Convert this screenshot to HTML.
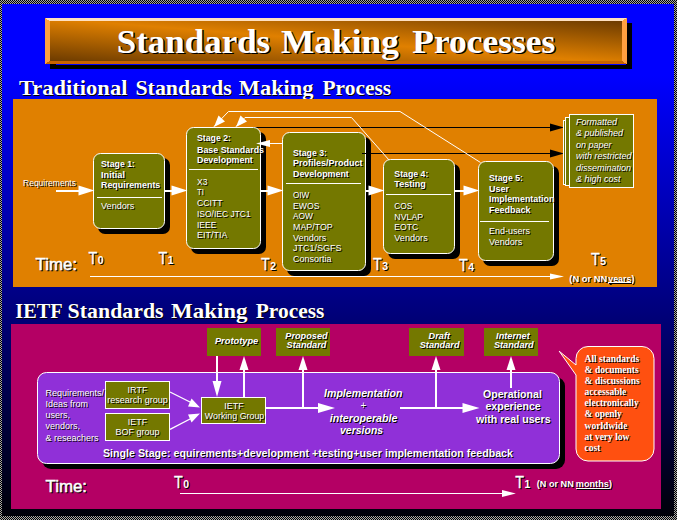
<!DOCTYPE html>
<html><head><meta charset="utf-8"><title>Standards Making Processes</title>
<style>
html,body{margin:0;padding:0;background:#000;}
body{width:677px;height:520px;overflow:hidden;font-family:"Liberation Sans",sans-serif;}
svg{display:block;}
</style></head><body>
<svg width="677" height="520" viewBox="0 0 677 520">
<defs>
<linearGradient id="bg" x1="0" y1="0" x2="0" y2="1">
<stop offset="0" stop-color="#0000ff"/><stop offset="0.14" stop-color="#0000ff"/><stop offset="1" stop-color="#000008"/>
</linearGradient>
<linearGradient id="tg" x1="0" y1="1" x2="1" y2="0">
<stop offset="0" stop-color="#643600"/><stop offset="0.5" stop-color="#e08000"/><stop offset="1" stop-color="#643600"/>
</linearGradient>
<pattern id="chk" width="2" height="2" patternUnits="userSpaceOnUse">
<rect width="2" height="2" fill="#000"/><rect x="1" y="0" width="1" height="1" fill="#a8a8a8"/><rect x="0" y="1" width="1" height="1" fill="#a8a8a8"/>
</pattern>
</defs>
<rect width="677" height="520" fill="url(#chk)" shape-rendering="crispEdges"/>
<rect x="2" y="4" width="672" height="512" fill="url(#bg)"/>

<g shape-rendering="crispEdges">
<rect x="50" y="23" width="582" height="46" fill="#000"/>
<rect x="45" y="18" width="582" height="46" fill="url(#tg)"/>
<polygon points="45,18 627,18 622,21 50,21" fill="#ffe0c0"/>
<polygon points="45,18 50,21 50,61 45,64" fill="#ffa040"/>
<polygon points="627,18 627,64 622,61 622,21" fill="#ffa040"/>
<polygon points="45,64 50,61 622,61 627,64" fill="#c86400"/>
<rect x="56" y="64" width="570" height="1" fill="#0000ff"/>
</g>
<text x="118.3" y="54.0" font-family="Liberation Serif, sans-serif" font-size="34" font-weight="bold" textLength="153.4" lengthAdjust="spacingAndGlyphs" fill="#000">Standards</text>
<text x="116.8" y="52.5" font-family="Liberation Serif, sans-serif" font-size="34" font-weight="bold" textLength="153.4" lengthAdjust="spacingAndGlyphs" fill="#fff">Standards</text>
<text x="282.4" y="54.0" font-family="Liberation Serif, sans-serif" font-size="34" font-weight="bold" textLength="118.0" lengthAdjust="spacingAndGlyphs" fill="#000">Making</text>
<text x="280.9" y="52.5" font-family="Liberation Serif, sans-serif" font-size="34" font-weight="bold" textLength="118.0" lengthAdjust="spacingAndGlyphs" fill="#fff">Making</text>
<text x="413.8" y="54.0" font-family="Liberation Serif, sans-serif" font-size="34" font-weight="bold" textLength="143.0" lengthAdjust="spacingAndGlyphs" fill="#000">Processes</text>
<text x="412.3" y="52.5" font-family="Liberation Serif, sans-serif" font-size="34" font-weight="bold" textLength="143.0" lengthAdjust="spacingAndGlyphs" fill="#fff">Processes</text>
<text x="20.0" y="96.0" font-family="Liberation Serif, sans-serif" font-size="21" font-weight="bold" textLength="108.4" lengthAdjust="spacingAndGlyphs" fill="#000">Traditional</text>
<text x="19.0" y="95.0" font-family="Liberation Serif, sans-serif" font-size="21" font-weight="bold" textLength="108.4" lengthAdjust="spacingAndGlyphs" fill="#fff">Traditional</text>
<text x="136.4" y="96.0" font-family="Liberation Serif, sans-serif" font-size="21" font-weight="bold" textLength="96.3" lengthAdjust="spacingAndGlyphs" fill="#000">Standards</text>
<text x="135.4" y="95.0" font-family="Liberation Serif, sans-serif" font-size="21" font-weight="bold" textLength="96.3" lengthAdjust="spacingAndGlyphs" fill="#fff">Standards</text>
<text x="239.8" y="96.0" font-family="Liberation Serif, sans-serif" font-size="21" font-weight="bold" textLength="74.7" lengthAdjust="spacingAndGlyphs" fill="#000">Making</text>
<text x="238.8" y="95.0" font-family="Liberation Serif, sans-serif" font-size="21" font-weight="bold" textLength="74.7" lengthAdjust="spacingAndGlyphs" fill="#fff">Making</text>
<text x="323.4" y="96.0" font-family="Liberation Serif, sans-serif" font-size="21" font-weight="bold" textLength="68.8" lengthAdjust="spacingAndGlyphs" fill="#000">Process</text>
<text x="322.4" y="95.0" font-family="Liberation Serif, sans-serif" font-size="21" font-weight="bold" textLength="68.8" lengthAdjust="spacingAndGlyphs" fill="#fff">Process</text>
<text x="16.3" y="319.2" font-family="Liberation Serif, sans-serif" font-size="21" font-weight="bold" textLength="47.3" lengthAdjust="spacingAndGlyphs" fill="#000">IETF</text>
<text x="15.3" y="318.2" font-family="Liberation Serif, sans-serif" font-size="21" font-weight="bold" textLength="47.3" lengthAdjust="spacingAndGlyphs" fill="#fff">IETF</text>
<text x="68.6" y="319.2" font-family="Liberation Serif, sans-serif" font-size="21" font-weight="bold" textLength="96.0" lengthAdjust="spacingAndGlyphs" fill="#000">Standards</text>
<text x="67.6" y="318.2" font-family="Liberation Serif, sans-serif" font-size="21" font-weight="bold" textLength="96.0" lengthAdjust="spacingAndGlyphs" fill="#fff">Standards</text>
<text x="172.0" y="319.2" font-family="Liberation Serif, sans-serif" font-size="21" font-weight="bold" textLength="76.5" lengthAdjust="spacingAndGlyphs" fill="#000">Making</text>
<text x="171.0" y="318.2" font-family="Liberation Serif, sans-serif" font-size="21" font-weight="bold" textLength="76.5" lengthAdjust="spacingAndGlyphs" fill="#fff">Making</text>
<text x="256.8" y="319.2" font-family="Liberation Serif, sans-serif" font-size="21" font-weight="bold" textLength="68.5" lengthAdjust="spacingAndGlyphs" fill="#000">Process</text>
<text x="255.8" y="318.2" font-family="Liberation Serif, sans-serif" font-size="21" font-weight="bold" textLength="68.5" lengthAdjust="spacingAndGlyphs" fill="#fff">Process</text>
<g shape-rendering="crispEdges">
<rect x="13" y="99" width="644" height="188" fill="#e08000"/>
<rect x="11" y="324" width="650" height="185" fill="#b40064"/>
</g>
<rect x="250" y="127" width="302" height="1" fill="#000" shape-rendering="crispEdges"/>
<rect x="362" y="153" width="190" height="1" fill="#000" shape-rendering="crispEdges"/>
<polygon points="550,123.5 564,127.5 550,131.5" fill="#000"/>
<polygon points="550,149.5 564,153.5 550,157.5" fill="#000"/>
<polyline points="214,126.5 228.5,111.5 400,111.5 480.5,162.5" fill="none" stroke="#fff" stroke-width="1"/>
<polygon points="214,127 218.5,115.5 225,121.5" fill="#fff"/>
<polyline points="236,126.5 245,117.5 351.5,117.5 389,160" fill="none" stroke="#fff" stroke-width="1"/>
<polygon points="236,127 240.5,115.5 247,121.5" fill="#fff"/>
<rect x="98" y="158" width="72" height="76" rx="7" ry="7" fill="#000"/>
<rect x="93.5" y="153.5" width="71" height="75" rx="7" ry="7" fill="#747800" stroke="#fff" stroke-width="1"/>
<rect x="191" y="132" width="75" height="122" rx="7" ry="7" fill="#000"/>
<rect x="186.5" y="127.5" width="74" height="121" rx="7" ry="7" fill="#747800" stroke="#fff" stroke-width="1"/>
<rect x="287" y="137" width="84" height="139" rx="7" ry="7" fill="#000"/>
<rect x="282.5" y="132.5" width="83" height="138" rx="7" ry="7" fill="#747800" stroke="#fff" stroke-width="1"/>
<rect x="388" y="164" width="72" height="95" rx="7" ry="7" fill="#000"/>
<rect x="383.5" y="159.5" width="71" height="94" rx="7" ry="7" fill="#747800" stroke="#fff" stroke-width="1"/>
<rect x="483" y="166" width="76" height="100" rx="7" ry="7" fill="#000"/>
<rect x="478.5" y="161.5" width="75" height="99" rx="7" ry="7" fill="#747800" stroke="#fff" stroke-width="1"/>
<rect x="362" y="153" width="5" height="1" fill="#000" shape-rendering="crispEdges"/>
<rect x="56" y="189.5" width="23.5" height="2" fill="#fff" shape-rendering="crispEdges"/>
<polygon points="78.5,185.5 94.5,190.5 78.5,195.5" fill="#fff"/>
<rect x="165" y="189.5" width="7.5" height="2" fill="#fff" shape-rendering="crispEdges"/>
<polygon points="171.5,185.5 187.5,190.5 171.5,195.5" fill="#fff"/>
<rect x="260" y="189.5" width="8.5" height="2" fill="#fff" shape-rendering="crispEdges"/>
<polygon points="267.5,185.5 283.5,190.5 267.5,195.5" fill="#fff"/>
<rect x="366" y="189.5" width="3.5" height="2" fill="#fff" shape-rendering="crispEdges"/>
<polygon points="368.5,185.5 384.5,190.5 368.5,195.5" fill="#fff"/>
<rect x="454" y="189.5" width="10.5" height="2" fill="#fff" shape-rendering="crispEdges"/>
<polygon points="463.5,185.5 479.5,190.5 463.5,195.5" fill="#fff"/>
<rect x="270" y="143" width="12" height="1" fill="#fff" shape-rendering="crispEdges"/>
<polygon points="256,143.5 270,140 270,147" fill="#fff"/>
<rect x="97" y="197" width="65" height="1" fill="#fff" shape-rendering="crispEdges"/>
<rect x="189" y="169" width="69" height="1" fill="#fff" shape-rendering="crispEdges"/>
<rect x="286" y="183" width="75" height="1" fill="#fff" shape-rendering="crispEdges"/>
<rect x="386" y="194" width="65" height="1" fill="#fff" shape-rendering="crispEdges"/>
<rect x="480" y="221" width="69" height="1" fill="#fff" shape-rendering="crispEdges"/>
<text x="24.0" y="187.4" font-family="Liberation Sans, sans-serif" font-size="8.3" textLength="53.0" lengthAdjust="spacingAndGlyphs" fill="#000">Requirements</text>
<text x="23.0" y="186.4" font-family="Liberation Sans, sans-serif" font-size="8.3" textLength="53.0" lengthAdjust="spacingAndGlyphs" fill="#fff">Requirements</text>
<text x="102.0" y="168.3" font-family="Liberation Sans, sans-serif" font-size="9" font-weight="bold" textLength="34.0" lengthAdjust="spacingAndGlyphs" fill="#000">Stage 1:</text>
<text x="101.0" y="167.3" font-family="Liberation Sans, sans-serif" font-size="9" font-weight="bold" textLength="34.0" lengthAdjust="spacingAndGlyphs" fill="#fff">Stage 1:</text>
<text x="102.0" y="178.6" font-family="Liberation Sans, sans-serif" font-size="9" font-weight="bold" textLength="24.0" lengthAdjust="spacingAndGlyphs" fill="#000">Initial</text>
<text x="101.0" y="177.6" font-family="Liberation Sans, sans-serif" font-size="9" font-weight="bold" textLength="24.0" lengthAdjust="spacingAndGlyphs" fill="#fff">Initial</text>
<text x="102.0" y="188.8" font-family="Liberation Sans, sans-serif" font-size="9" font-weight="bold" textLength="59.3" lengthAdjust="spacingAndGlyphs" fill="#000">Requirements</text>
<text x="101.0" y="187.8" font-family="Liberation Sans, sans-serif" font-size="9" font-weight="bold" textLength="59.3" lengthAdjust="spacingAndGlyphs" fill="#fff">Requirements</text>
<text x="102.0" y="210.2" font-family="Liberation Sans, sans-serif" font-size="9.5" textLength="33.4" lengthAdjust="spacingAndGlyphs" fill="#000">Vendors</text>
<text x="101.0" y="209.2" font-family="Liberation Sans, sans-serif" font-size="9.5" textLength="33.4" lengthAdjust="spacingAndGlyphs" fill="#fff">Vendors</text>
<text x="198.0" y="142.4" font-family="Liberation Sans, sans-serif" font-size="9" font-weight="bold" textLength="34.0" lengthAdjust="spacingAndGlyphs" fill="#000">Stage 2:</text>
<text x="197.0" y="141.4" font-family="Liberation Sans, sans-serif" font-size="9" font-weight="bold" textLength="34.0" lengthAdjust="spacingAndGlyphs" fill="#fff">Stage 2:</text>
<text x="198.0" y="153.7" font-family="Liberation Sans, sans-serif" font-size="9" font-weight="bold" textLength="67.0" lengthAdjust="spacingAndGlyphs" fill="#000">Base Standards</text>
<text x="197.0" y="152.7" font-family="Liberation Sans, sans-serif" font-size="9" font-weight="bold" textLength="67.0" lengthAdjust="spacingAndGlyphs" fill="#fff">Base Standards</text>
<text x="198.0" y="163.9" font-family="Liberation Sans, sans-serif" font-size="9" font-weight="bold" textLength="55.8" lengthAdjust="spacingAndGlyphs" fill="#000">Development</text>
<text x="197.0" y="162.9" font-family="Liberation Sans, sans-serif" font-size="9" font-weight="bold" textLength="55.8" lengthAdjust="spacingAndGlyphs" fill="#fff">Development</text>
<text x="198.0" y="185.6" font-family="Liberation Sans, sans-serif" font-size="9.5" textLength="10.5" lengthAdjust="spacingAndGlyphs" fill="#000">X3</text>
<text x="197.0" y="184.6" font-family="Liberation Sans, sans-serif" font-size="9.5" textLength="10.5" lengthAdjust="spacingAndGlyphs" fill="#fff">X3</text>
<text x="198.0" y="196.3" font-family="Liberation Sans, sans-serif" font-size="9.5" textLength="6.8" lengthAdjust="spacingAndGlyphs" fill="#000">TI</text>
<text x="197.0" y="195.3" font-family="Liberation Sans, sans-serif" font-size="9.5" textLength="6.8" lengthAdjust="spacingAndGlyphs" fill="#fff">TI</text>
<text x="198.0" y="207.1" font-family="Liberation Sans, sans-serif" font-size="9.5" textLength="25.6" lengthAdjust="spacingAndGlyphs" fill="#000">CCITT</text>
<text x="197.0" y="206.1" font-family="Liberation Sans, sans-serif" font-size="9.5" textLength="25.6" lengthAdjust="spacingAndGlyphs" fill="#fff">CCITT</text>
<text x="198.0" y="217.8" font-family="Liberation Sans, sans-serif" font-size="9.5" textLength="53.7" lengthAdjust="spacingAndGlyphs" fill="#000">ISO/IEC JTC1</text>
<text x="197.0" y="216.8" font-family="Liberation Sans, sans-serif" font-size="9.5" textLength="53.7" lengthAdjust="spacingAndGlyphs" fill="#fff">ISO/IEC JTC1</text>
<text x="198.0" y="228.6" font-family="Liberation Sans, sans-serif" font-size="9.5" textLength="19.3" lengthAdjust="spacingAndGlyphs" fill="#000">IEEE</text>
<text x="197.0" y="227.6" font-family="Liberation Sans, sans-serif" font-size="9.5" textLength="19.3" lengthAdjust="spacingAndGlyphs" fill="#fff">IEEE</text>
<text x="198.0" y="239.3" font-family="Liberation Sans, sans-serif" font-size="9.5" textLength="30.5" lengthAdjust="spacingAndGlyphs" fill="#000">EIT/TIA</text>
<text x="197.0" y="238.3" font-family="Liberation Sans, sans-serif" font-size="9.5" textLength="30.5" lengthAdjust="spacingAndGlyphs" fill="#fff">EIT/TIA</text>
<text x="294.0" y="157.1" font-family="Liberation Sans, sans-serif" font-size="9" font-weight="bold" textLength="34.0" lengthAdjust="spacingAndGlyphs" fill="#000">Stage 3:</text>
<text x="293.0" y="156.1" font-family="Liberation Sans, sans-serif" font-size="9" font-weight="bold" textLength="34.0" lengthAdjust="spacingAndGlyphs" fill="#fff">Stage 3:</text>
<text x="294.0" y="167.2" font-family="Liberation Sans, sans-serif" font-size="9" font-weight="bold" fill="#000">Profiles/Product</text>
<text x="293.0" y="166.2" font-family="Liberation Sans, sans-serif" font-size="9" font-weight="bold" fill="#fff">Profiles/Product</text>
<text x="294.0" y="177.7" font-family="Liberation Sans, sans-serif" font-size="9" font-weight="bold" textLength="55.8" lengthAdjust="spacingAndGlyphs" fill="#000">Development</text>
<text x="293.0" y="176.7" font-family="Liberation Sans, sans-serif" font-size="9" font-weight="bold" textLength="55.8" lengthAdjust="spacingAndGlyphs" fill="#fff">Development</text>
<text x="294.0" y="198.9" font-family="Liberation Sans, sans-serif" font-size="9.5" textLength="16.3" lengthAdjust="spacingAndGlyphs" fill="#000">OIW</text>
<text x="293.0" y="197.9" font-family="Liberation Sans, sans-serif" font-size="9.5" textLength="16.3" lengthAdjust="spacingAndGlyphs" fill="#fff">OIW</text>
<text x="294.0" y="209.6" font-family="Liberation Sans, sans-serif" font-size="9.5" textLength="26.4" lengthAdjust="spacingAndGlyphs" fill="#000">EWOS</text>
<text x="293.0" y="208.6" font-family="Liberation Sans, sans-serif" font-size="9.5" textLength="26.4" lengthAdjust="spacingAndGlyphs" fill="#fff">EWOS</text>
<text x="294.0" y="220.2" font-family="Liberation Sans, sans-serif" font-size="9.5" textLength="20.0" lengthAdjust="spacingAndGlyphs" fill="#000">AOW</text>
<text x="293.0" y="219.2" font-family="Liberation Sans, sans-serif" font-size="9.5" textLength="20.0" lengthAdjust="spacingAndGlyphs" fill="#fff">AOW</text>
<text x="294.0" y="230.9" font-family="Liberation Sans, sans-serif" font-size="9.5" textLength="39.7" lengthAdjust="spacingAndGlyphs" fill="#000">MAP/TOP</text>
<text x="293.0" y="229.9" font-family="Liberation Sans, sans-serif" font-size="9.5" textLength="39.7" lengthAdjust="spacingAndGlyphs" fill="#fff">MAP/TOP</text>
<text x="294.0" y="241.5" font-family="Liberation Sans, sans-serif" font-size="9.5" textLength="33.4" lengthAdjust="spacingAndGlyphs" fill="#000">Vendors</text>
<text x="293.0" y="240.5" font-family="Liberation Sans, sans-serif" font-size="9.5" textLength="33.4" lengthAdjust="spacingAndGlyphs" fill="#fff">Vendors</text>
<text x="294.0" y="252.2" font-family="Liberation Sans, sans-serif" font-size="9.5" textLength="48.5" lengthAdjust="spacingAndGlyphs" fill="#000">JTC1/SGFS</text>
<text x="293.0" y="251.2" font-family="Liberation Sans, sans-serif" font-size="9.5" textLength="48.5" lengthAdjust="spacingAndGlyphs" fill="#fff">JTC1/SGFS</text>
<text x="294.0" y="262.8" font-family="Liberation Sans, sans-serif" font-size="9.5" textLength="38.5" lengthAdjust="spacingAndGlyphs" fill="#000">Consortia</text>
<text x="293.0" y="261.8" font-family="Liberation Sans, sans-serif" font-size="9.5" textLength="38.5" lengthAdjust="spacingAndGlyphs" fill="#fff">Consortia</text>
<text x="395.3" y="177.9" font-family="Liberation Sans, sans-serif" font-size="9" font-weight="bold" textLength="34.0" lengthAdjust="spacingAndGlyphs" fill="#000">Stage 4:</text>
<text x="394.3" y="176.9" font-family="Liberation Sans, sans-serif" font-size="9" font-weight="bold" textLength="34.0" lengthAdjust="spacingAndGlyphs" fill="#fff">Stage 4:</text>
<text x="395.3" y="188.3" font-family="Liberation Sans, sans-serif" font-size="9" font-weight="bold" fill="#000">Testing</text>
<text x="394.3" y="187.3" font-family="Liberation Sans, sans-serif" font-size="9" font-weight="bold" fill="#fff">Testing</text>
<text x="395.3" y="209.7" font-family="Liberation Sans, sans-serif" font-size="9.5" textLength="18.0" lengthAdjust="spacingAndGlyphs" fill="#000">COS</text>
<text x="394.3" y="208.7" font-family="Liberation Sans, sans-serif" font-size="9.5" textLength="18.0" lengthAdjust="spacingAndGlyphs" fill="#fff">COS</text>
<text x="395.3" y="220.5" font-family="Liberation Sans, sans-serif" font-size="9.5" textLength="28.9" lengthAdjust="spacingAndGlyphs" fill="#000">NVLAP</text>
<text x="394.3" y="219.5" font-family="Liberation Sans, sans-serif" font-size="9.5" textLength="28.9" lengthAdjust="spacingAndGlyphs" fill="#fff">NVLAP</text>
<text x="395.3" y="231.3" font-family="Liberation Sans, sans-serif" font-size="9.5" textLength="23.9" lengthAdjust="spacingAndGlyphs" fill="#000">EOTC</text>
<text x="394.3" y="230.3" font-family="Liberation Sans, sans-serif" font-size="9.5" textLength="23.9" lengthAdjust="spacingAndGlyphs" fill="#fff">EOTC</text>
<text x="395.3" y="242.1" font-family="Liberation Sans, sans-serif" font-size="9.5" textLength="33.4" lengthAdjust="spacingAndGlyphs" fill="#000">Vendors</text>
<text x="394.3" y="241.1" font-family="Liberation Sans, sans-serif" font-size="9.5" textLength="33.4" lengthAdjust="spacingAndGlyphs" fill="#fff">Vendors</text>
<text x="490.0" y="181.8" font-family="Liberation Sans, sans-serif" font-size="9" font-weight="bold" textLength="34.0" lengthAdjust="spacingAndGlyphs" fill="#000">Stage 5:</text>
<text x="489.0" y="180.8" font-family="Liberation Sans, sans-serif" font-size="9" font-weight="bold" textLength="34.0" lengthAdjust="spacingAndGlyphs" fill="#fff">Stage 5:</text>
<text x="490.0" y="192.7" font-family="Liberation Sans, sans-serif" font-size="9" font-weight="bold" fill="#000">User</text>
<text x="489.0" y="191.7" font-family="Liberation Sans, sans-serif" font-size="9" font-weight="bold" fill="#fff">User</text>
<text x="490.0" y="203.2" font-family="Liberation Sans, sans-serif" font-size="9" font-weight="bold" textLength="65.4" lengthAdjust="spacingAndGlyphs" fill="#000">Implementation</text>
<text x="489.0" y="202.2" font-family="Liberation Sans, sans-serif" font-size="9" font-weight="bold" textLength="65.4" lengthAdjust="spacingAndGlyphs" fill="#fff">Implementation</text>
<text x="490.0" y="213.8" font-family="Liberation Sans, sans-serif" font-size="9" font-weight="bold" fill="#000">Feedback</text>
<text x="489.0" y="212.8" font-family="Liberation Sans, sans-serif" font-size="9" font-weight="bold" fill="#fff">Feedback</text>
<text x="490.0" y="235.0" font-family="Liberation Sans, sans-serif" font-size="9.5" textLength="41.0" lengthAdjust="spacingAndGlyphs" fill="#000">End-users</text>
<text x="489.0" y="234.0" font-family="Liberation Sans, sans-serif" font-size="9.5" textLength="41.0" lengthAdjust="spacingAndGlyphs" fill="#fff">End-users</text>
<text x="490.0" y="245.9" font-family="Liberation Sans, sans-serif" font-size="9.5" textLength="33.4" lengthAdjust="spacingAndGlyphs" fill="#000">Vendors</text>
<text x="489.0" y="244.9" font-family="Liberation Sans, sans-serif" font-size="9.5" textLength="33.4" lengthAdjust="spacingAndGlyphs" fill="#fff">Vendors</text>
<g shape-rendering="crispEdges">
<rect x="563.5" y="120.5" width="8" height="64" fill="#747800" stroke="#fff"/>
<rect x="565.5" y="117.5" width="8" height="68" fill="#747800" stroke="#fff"/>
<rect x="569.5" y="114.5" width="64" height="73" fill="#747800" stroke="#fff"/>
</g>
<text x="577.0" y="126.0" font-family="Liberation Sans, sans-serif" font-size="9" font-style="italic" fill="#000">Formatted</text>
<text x="576.0" y="125.0" font-family="Liberation Sans, sans-serif" font-size="9" font-style="italic" fill="#fff">Formatted</text>
<text x="577.0" y="137.4" font-family="Liberation Sans, sans-serif" font-size="9" font-style="italic" fill="#000">&amp; published</text>
<text x="576.0" y="136.4" font-family="Liberation Sans, sans-serif" font-size="9" font-style="italic" fill="#fff">&amp; published</text>
<text x="577.0" y="148.8" font-family="Liberation Sans, sans-serif" font-size="9" font-style="italic" fill="#000">on paper</text>
<text x="576.0" y="147.8" font-family="Liberation Sans, sans-serif" font-size="9" font-style="italic" fill="#fff">on paper</text>
<text x="577.0" y="160.2" font-family="Liberation Sans, sans-serif" font-size="9" font-style="italic" fill="#000">with restricted</text>
<text x="576.0" y="159.2" font-family="Liberation Sans, sans-serif" font-size="9" font-style="italic" fill="#fff">with restricted</text>
<text x="577.0" y="171.6" font-family="Liberation Sans, sans-serif" font-size="9" font-style="italic" fill="#000">dissemination</text>
<text x="576.0" y="170.6" font-family="Liberation Sans, sans-serif" font-size="9" font-style="italic" fill="#fff">dissemination</text>
<text x="577.0" y="183.0" font-family="Liberation Sans, sans-serif" font-size="9" font-style="italic" fill="#000">&amp; high cost</text>
<text x="576.0" y="182.0" font-family="Liberation Sans, sans-serif" font-size="9" font-style="italic" fill="#fff">&amp; high cost</text>
<text x="36.6" y="271.4" font-family="Liberation Sans, sans-serif" font-size="16" stroke-width="0.5" textLength="41.5" lengthAdjust="spacingAndGlyphs" fill="#000" stroke="#000">Time:</text>
<text x="35.6" y="270.4" font-family="Liberation Sans, sans-serif" font-size="16" stroke-width="0.5" textLength="41.5" lengthAdjust="spacingAndGlyphs" fill="#fff" stroke="#fff">Time:</text>
<text x="89.5" y="265.2" font-family="Liberation Sans, sans-serif" font-size="16" stroke-width="0.3" textLength="8.8" lengthAdjust="spacingAndGlyphs" fill="#000" stroke="#000">T</text>
<text x="88.5" y="264.2" font-family="Liberation Sans, sans-serif" font-size="16" stroke-width="0.3" textLength="8.8" lengthAdjust="spacingAndGlyphs" fill="#fff" stroke="#fff">T</text>
<text x="98.7" y="265.2" font-family="Liberation Sans, sans-serif" font-size="10.5" font-weight="bold" fill="#000">0</text>
<text x="97.7" y="264.2" font-family="Liberation Sans, sans-serif" font-size="10.5" font-weight="bold" fill="#fff">0</text>
<text x="159.5" y="265.2" font-family="Liberation Sans, sans-serif" font-size="16" stroke-width="0.3" textLength="8.8" lengthAdjust="spacingAndGlyphs" fill="#000" stroke="#000">T</text>
<text x="158.5" y="264.2" font-family="Liberation Sans, sans-serif" font-size="16" stroke-width="0.3" textLength="8.8" lengthAdjust="spacingAndGlyphs" fill="#fff" stroke="#fff">T</text>
<text x="168.7" y="265.2" font-family="Liberation Sans, sans-serif" font-size="10.5" font-weight="bold" fill="#000">1</text>
<text x="167.7" y="264.2" font-family="Liberation Sans, sans-serif" font-size="10.5" font-weight="bold" fill="#fff">1</text>
<text x="262.0" y="271.0" font-family="Liberation Sans, sans-serif" font-size="16" stroke-width="0.3" textLength="8.8" lengthAdjust="spacingAndGlyphs" fill="#000" stroke="#000">T</text>
<text x="261.0" y="270.0" font-family="Liberation Sans, sans-serif" font-size="16" stroke-width="0.3" textLength="8.8" lengthAdjust="spacingAndGlyphs" fill="#fff" stroke="#fff">T</text>
<text x="271.2" y="271.0" font-family="Liberation Sans, sans-serif" font-size="10.5" font-weight="bold" fill="#000">2</text>
<text x="270.2" y="270.0" font-family="Liberation Sans, sans-serif" font-size="10.5" font-weight="bold" fill="#fff">2</text>
<text x="374.0" y="271.0" font-family="Liberation Sans, sans-serif" font-size="16" stroke-width="0.3" textLength="8.8" lengthAdjust="spacingAndGlyphs" fill="#000" stroke="#000">T</text>
<text x="373.0" y="270.0" font-family="Liberation Sans, sans-serif" font-size="16" stroke-width="0.3" textLength="8.8" lengthAdjust="spacingAndGlyphs" fill="#fff" stroke="#fff">T</text>
<text x="383.2" y="271.0" font-family="Liberation Sans, sans-serif" font-size="10.5" font-weight="bold" fill="#000">3</text>
<text x="382.2" y="270.0" font-family="Liberation Sans, sans-serif" font-size="10.5" font-weight="bold" fill="#fff">3</text>
<text x="460.0" y="272.0" font-family="Liberation Sans, sans-serif" font-size="16" stroke-width="0.3" textLength="8.8" lengthAdjust="spacingAndGlyphs" fill="#000" stroke="#000">T</text>
<text x="459.0" y="271.0" font-family="Liberation Sans, sans-serif" font-size="16" stroke-width="0.3" textLength="8.8" lengthAdjust="spacingAndGlyphs" fill="#fff" stroke="#fff">T</text>
<text x="469.2" y="272.0" font-family="Liberation Sans, sans-serif" font-size="10.5" font-weight="bold" fill="#000">4</text>
<text x="468.2" y="271.0" font-family="Liberation Sans, sans-serif" font-size="10.5" font-weight="bold" fill="#fff">4</text>
<text x="592.0" y="265.5" font-family="Liberation Sans, sans-serif" font-size="16" stroke-width="0.3" textLength="8.8" lengthAdjust="spacingAndGlyphs" fill="#000" stroke="#000">T</text>
<text x="591.0" y="264.5" font-family="Liberation Sans, sans-serif" font-size="16" stroke-width="0.3" textLength="8.8" lengthAdjust="spacingAndGlyphs" fill="#fff" stroke="#fff">T</text>
<text x="601.2" y="265.5" font-family="Liberation Sans, sans-serif" font-size="10.5" font-weight="bold" fill="#000">5</text>
<text x="600.2" y="264.5" font-family="Liberation Sans, sans-serif" font-size="10.5" font-weight="bold" fill="#fff">5</text>
<rect x="90" y="276" width="462" height="1" fill="#fff" shape-rendering="crispEdges"/>
<polygon points="550,273.5 564,276.5 550,279.5" fill="#fff"/>
<text x="570.3" y="282.5" font-family="Liberation Sans, sans-serif" font-size="9" font-weight="bold" textLength="38.0" lengthAdjust="spacingAndGlyphs" fill="#000">(N or NN</text>
<text x="569.3" y="281.5" font-family="Liberation Sans, sans-serif" font-size="9" font-weight="bold" textLength="38.0" lengthAdjust="spacingAndGlyphs" fill="#fff">(N or NN</text>
<text x="609.3" y="282.5" font-family="Liberation Sans, sans-serif" font-size="9" font-weight="bold" textLength="23.0" lengthAdjust="spacingAndGlyphs" fill="#000">years</text>
<text x="608.3" y="281.5" font-family="Liberation Sans, sans-serif" font-size="9" font-weight="bold" textLength="23.0" lengthAdjust="spacingAndGlyphs" fill="#fff">years</text>
<text x="632.5" y="282.5" font-family="Liberation Sans, sans-serif" font-size="9" font-weight="bold" fill="#000">)</text>
<text x="631.5" y="281.5" font-family="Liberation Sans, sans-serif" font-size="9" font-weight="bold" fill="#fff">)</text>
<rect x="609" y="283" width="23" height="1" fill="#000" shape-rendering="crispEdges"/>
<rect x="608" y="282" width="23" height="1" fill="#fff" shape-rendering="crispEdges"/>
<rect x="42" y="377" width="523" height="92" rx="9" ry="9" fill="#000"/>
<rect x="37.5" y="372.5" width="522" height="91" rx="9" ry="9" fill="#9030d8" stroke="#fff" stroke-width="1"/>
<g shape-rendering="crispEdges">
<rect x="207" y="328" width="54" height="28" fill="#747800"/>
<rect x="276" y="328" width="54" height="28" fill="#747800"/>
<rect x="409" y="328" width="55" height="28" fill="#747800"/>
<rect x="484" y="328" width="54" height="28" fill="#747800"/>
<rect x="105.5" y="381.5" width="64" height="27" fill="#747800" stroke="#fff"/>
<rect x="105.5" y="413.5" width="64" height="27" fill="#747800" stroke="#fff"/>
<rect x="201.5" y="397.5" width="64" height="26" fill="#747800" stroke="#fff"/>
</g>
<rect x="216.0" y="356" width="2" height="26" fill="#fff" shape-rendering="crispEdges"/>
<polygon points="212.5,381 217,397 221.5,381" fill="#fff"/>
<rect x="243.0" y="369" width="2" height="29" fill="#fff" shape-rendering="crispEdges"/>
<polygon points="239.5,370 244,356 248.5,370" fill="#fff"/>
<rect x="302.0" y="369" width="2" height="39" fill="#fff" shape-rendering="crispEdges"/>
<polygon points="298.5,370 303,356 307.5,370" fill="#fff"/>
<rect x="435.0" y="369" width="2" height="39" fill="#fff" shape-rendering="crispEdges"/>
<polygon points="431.5,370 436,356 440.5,370" fill="#fff"/>
<rect x="510.0" y="369" width="2" height="19" fill="#fff" shape-rendering="crispEdges"/>
<polygon points="506.5,370 511,356 515.5,370" fill="#fff"/>
<rect x="265" y="407.0" width="54" height="2" fill="#fff" shape-rendering="crispEdges"/>
<polygon points="318,403 335,408 318,413" fill="#fff"/>
<rect x="399.5" y="407.0" width="64.0" height="2" fill="#fff" shape-rendering="crispEdges"/>
<polygon points="462.5,403 479.5,408 462.5,413" fill="#fff"/>
<line x1="170" y1="392" x2="192" y2="403" stroke="#fff" stroke-width="1.3"/>
<polygon points="200,407.5 188,406.5 191.5,398.5" fill="#fff"/>
<line x1="170" y1="429.3" x2="192" y2="418" stroke="#fff" stroke-width="1.3"/>
<polygon points="200,413.5 191.5,422.5 188,414.5" fill="#fff"/>
<text x="46.6" y="397.0" font-family="Liberation Sans, sans-serif" font-size="9" fill="#000">Requirements/</text>
<text x="45.6" y="396.0" font-family="Liberation Sans, sans-serif" font-size="9" fill="#fff">Requirements/</text>
<text x="46.6" y="408.1" font-family="Liberation Sans, sans-serif" font-size="9" fill="#000">Ideas from</text>
<text x="45.6" y="407.1" font-family="Liberation Sans, sans-serif" font-size="9" fill="#fff">Ideas from</text>
<text x="46.6" y="419.3" font-family="Liberation Sans, sans-serif" font-size="9" fill="#000">users,</text>
<text x="45.6" y="418.3" font-family="Liberation Sans, sans-serif" font-size="9" fill="#fff">users,</text>
<text x="46.6" y="430.4" font-family="Liberation Sans, sans-serif" font-size="9" fill="#000">vendors,</text>
<text x="45.6" y="429.4" font-family="Liberation Sans, sans-serif" font-size="9" fill="#fff">vendors,</text>
<text x="46.6" y="441.6" font-family="Liberation Sans, sans-serif" font-size="9" fill="#000">&amp; reseachers</text>
<text x="45.6" y="440.6" font-family="Liberation Sans, sans-serif" font-size="9" fill="#fff">&amp; reseachers</text>
<text x="128.6" y="393.8" font-family="Liberation Sans, sans-serif" font-size="9" fill="#000">IRTF</text>
<text x="127.6" y="392.8" font-family="Liberation Sans, sans-serif" font-size="9" fill="#fff">IRTF</text>
<text x="108.2" y="403.9" font-family="Liberation Sans, sans-serif" font-size="9" fill="#000">research group</text>
<text x="107.2" y="402.9" font-family="Liberation Sans, sans-serif" font-size="9" fill="#fff">research group</text>
<text x="128.8" y="425.7" font-family="Liberation Sans, sans-serif" font-size="9" fill="#000">IETF</text>
<text x="127.8" y="424.7" font-family="Liberation Sans, sans-serif" font-size="9" fill="#fff">IETF</text>
<text x="116.5" y="435.8" font-family="Liberation Sans, sans-serif" font-size="9" fill="#000">BOF group</text>
<text x="115.5" y="434.8" font-family="Liberation Sans, sans-serif" font-size="9" fill="#fff">BOF group</text>
<text x="225.3" y="409.6" font-family="Liberation Sans, sans-serif" font-size="9" fill="#000">IETF</text>
<text x="224.3" y="408.6" font-family="Liberation Sans, sans-serif" font-size="9" fill="#fff">IETF</text>
<text x="205.8" y="419.7" font-family="Liberation Sans, sans-serif" font-size="9" textLength="59.5" lengthAdjust="spacingAndGlyphs" fill="#000">Working Group</text>
<text x="204.8" y="418.7" font-family="Liberation Sans, sans-serif" font-size="9" textLength="59.5" lengthAdjust="spacingAndGlyphs" fill="#fff">Working Group</text>
<text x="215.9" y="345.4" font-family="Liberation Sans, sans-serif" font-size="9.2" font-weight="bold" font-style="italic" textLength="43.4" lengthAdjust="spacingAndGlyphs" fill="#000">Prototype</text>
<text x="214.9" y="344.4" font-family="Liberation Sans, sans-serif" font-size="9.2" font-weight="bold" font-style="italic" textLength="43.4" lengthAdjust="spacingAndGlyphs" fill="#fff">Prototype</text>
<text x="286.3" y="340.3" font-family="Liberation Sans, sans-serif" font-size="9.2" font-weight="bold" font-style="italic" fill="#000">Proposed</text>
<text x="285.3" y="339.3" font-family="Liberation Sans, sans-serif" font-size="9.2" font-weight="bold" font-style="italic" fill="#fff">Proposed</text>
<text x="287.6" y="349.4" font-family="Liberation Sans, sans-serif" font-size="9.2" font-weight="bold" font-style="italic" fill="#000">Standard</text>
<text x="286.6" y="348.4" font-family="Liberation Sans, sans-serif" font-size="9.2" font-weight="bold" font-style="italic" fill="#fff">Standard</text>
<text x="429.6" y="340.3" font-family="Liberation Sans, sans-serif" font-size="9.2" font-weight="bold" font-style="italic" fill="#000">Draft</text>
<text x="428.6" y="339.3" font-family="Liberation Sans, sans-serif" font-size="9.2" font-weight="bold" font-style="italic" fill="#fff">Draft</text>
<text x="420.7" y="349.4" font-family="Liberation Sans, sans-serif" font-size="9.2" font-weight="bold" font-style="italic" fill="#000">Standard</text>
<text x="419.7" y="348.4" font-family="Liberation Sans, sans-serif" font-size="9.2" font-weight="bold" font-style="italic" fill="#fff">Standard</text>
<text x="497.1" y="340.3" font-family="Liberation Sans, sans-serif" font-size="9.2" font-weight="bold" font-style="italic" fill="#000">Internet</text>
<text x="496.1" y="339.3" font-family="Liberation Sans, sans-serif" font-size="9.2" font-weight="bold" font-style="italic" fill="#fff">Internet</text>
<text x="494.9" y="349.4" font-family="Liberation Sans, sans-serif" font-size="9.2" font-weight="bold" font-style="italic" fill="#000">Standard</text>
<text x="493.9" y="348.4" font-family="Liberation Sans, sans-serif" font-size="9.2" font-weight="bold" font-style="italic" fill="#fff">Standard</text>
<text x="325.0" y="397.6" font-family="Liberation Sans, sans-serif" font-size="10.5" font-weight="bold" font-style="italic" textLength="78.4" lengthAdjust="spacingAndGlyphs" fill="#000">Implementation</text>
<text x="324.0" y="396.6" font-family="Liberation Sans, sans-serif" font-size="10.5" font-weight="bold" font-style="italic" textLength="78.4" lengthAdjust="spacingAndGlyphs" fill="#fff">Implementation</text>
<text x="361.6" y="409.6" font-family="Liberation Sans, sans-serif" font-size="10" fill="#000">+</text>
<text x="360.6" y="408.6" font-family="Liberation Sans, sans-serif" font-size="10" fill="#fff">+</text>
<text x="330.8" y="423.2" font-family="Liberation Sans, sans-serif" font-size="10.5" font-weight="bold" font-style="italic" textLength="67.6" lengthAdjust="spacingAndGlyphs" fill="#000">interoperable</text>
<text x="329.8" y="422.2" font-family="Liberation Sans, sans-serif" font-size="10.5" font-weight="bold" font-style="italic" textLength="67.6" lengthAdjust="spacingAndGlyphs" fill="#fff">interoperable</text>
<text x="341.0" y="435.3" font-family="Liberation Sans, sans-serif" font-size="10.5" font-weight="bold" font-style="italic" fill="#000">versions</text>
<text x="340.0" y="434.3" font-family="Liberation Sans, sans-serif" font-size="10.5" font-weight="bold" font-style="italic" fill="#fff">versions</text>
<text x="484.0" y="398.9" font-family="Liberation Sans, sans-serif" font-size="10.6" font-weight="bold" fill="#000">Operational</text>
<text x="483.0" y="397.9" font-family="Liberation Sans, sans-serif" font-size="10.6" font-weight="bold" fill="#fff">Operational</text>
<text x="486.4" y="411.4" font-family="Liberation Sans, sans-serif" font-size="10.6" font-weight="bold" fill="#000">experience</text>
<text x="485.4" y="410.4" font-family="Liberation Sans, sans-serif" font-size="10.6" font-weight="bold" fill="#fff">experience</text>
<text x="476.9" y="424.0" font-family="Liberation Sans, sans-serif" font-size="10.6" font-weight="bold" textLength="74.7" lengthAdjust="spacingAndGlyphs" fill="#000">with real users</text>
<text x="475.9" y="423.0" font-family="Liberation Sans, sans-serif" font-size="10.6" font-weight="bold" textLength="74.7" lengthAdjust="spacingAndGlyphs" fill="#fff">with real users</text>
<text x="104.0" y="457.7" font-family="Liberation Sans, sans-serif" font-size="10.5" font-weight="bold" textLength="410.0" lengthAdjust="spacingAndGlyphs" fill="#000">Single Stage: equirements+development +testing+user implementation feedback</text>
<text x="103.0" y="456.7" font-family="Liberation Sans, sans-serif" font-size="10.5" font-weight="bold" textLength="410.0" lengthAdjust="spacingAndGlyphs" fill="#fff">Single Stage: equirements+development +testing+user implementation feedback</text>
<path d="M576,375 L559.2,351.2 L576,365 L576,358.5 A12,12 0 0 1 588,346.5 L642,346.5 A12,12 0 0 1 654,358.5 L654,449 A12,12 0 0 1 642,461 L588,461 A12,12 0 0 1 576,449 Z" fill="#ff5010" stroke="#fff" stroke-width="1"/>
<text x="585.6" y="363.0" font-family="Liberation Serif, sans-serif" font-size="9.5" font-weight="bold" fill="#000">All standards</text>
<text x="584.6" y="362.0" font-family="Liberation Serif, sans-serif" font-size="9.5" font-weight="bold" fill="#fff">All standards</text>
<text x="585.6" y="374.1" font-family="Liberation Serif, sans-serif" font-size="9.5" font-weight="bold" fill="#000">&amp; documents</text>
<text x="584.6" y="373.1" font-family="Liberation Serif, sans-serif" font-size="9.5" font-weight="bold" fill="#fff">&amp; documents</text>
<text x="585.6" y="385.2" font-family="Liberation Serif, sans-serif" font-size="9.5" font-weight="bold" fill="#000">&amp; discussions</text>
<text x="584.6" y="384.2" font-family="Liberation Serif, sans-serif" font-size="9.5" font-weight="bold" fill="#fff">&amp; discussions</text>
<text x="585.6" y="396.2" font-family="Liberation Serif, sans-serif" font-size="9.5" font-weight="bold" fill="#000">accessable</text>
<text x="584.6" y="395.2" font-family="Liberation Serif, sans-serif" font-size="9.5" font-weight="bold" fill="#fff">accessable</text>
<text x="585.6" y="407.3" font-family="Liberation Serif, sans-serif" font-size="9.5" font-weight="bold" fill="#000">electronically</text>
<text x="584.6" y="406.3" font-family="Liberation Serif, sans-serif" font-size="9.5" font-weight="bold" fill="#fff">electronically</text>
<text x="585.6" y="418.4" font-family="Liberation Serif, sans-serif" font-size="9.5" font-weight="bold" fill="#000">&amp; openly</text>
<text x="584.6" y="417.4" font-family="Liberation Serif, sans-serif" font-size="9.5" font-weight="bold" fill="#fff">&amp; openly</text>
<text x="585.6" y="429.5" font-family="Liberation Serif, sans-serif" font-size="9.5" font-weight="bold" fill="#000">worldwide</text>
<text x="584.6" y="428.5" font-family="Liberation Serif, sans-serif" font-size="9.5" font-weight="bold" fill="#fff">worldwide</text>
<text x="585.6" y="440.6" font-family="Liberation Serif, sans-serif" font-size="9.5" font-weight="bold" fill="#000">at very low</text>
<text x="584.6" y="439.6" font-family="Liberation Serif, sans-serif" font-size="9.5" font-weight="bold" fill="#fff">at very low</text>
<text x="585.6" y="451.6" font-family="Liberation Serif, sans-serif" font-size="9.5" font-weight="bold" fill="#000">cost</text>
<text x="584.6" y="450.6" font-family="Liberation Serif, sans-serif" font-size="9.5" font-weight="bold" fill="#fff">cost</text>
<text x="46.5" y="493.4" font-family="Liberation Sans, sans-serif" font-size="16" stroke-width="0.5" textLength="41.5" lengthAdjust="spacingAndGlyphs" fill="#000" stroke="#000">Time:</text>
<text x="45.5" y="492.4" font-family="Liberation Sans, sans-serif" font-size="16" stroke-width="0.5" textLength="41.5" lengthAdjust="spacingAndGlyphs" fill="#fff" stroke="#fff">Time:</text>
<text x="175.0" y="488.5" font-family="Liberation Sans, sans-serif" font-size="16" stroke-width="0.3" textLength="8.8" lengthAdjust="spacingAndGlyphs" fill="#000" stroke="#000">T</text>
<text x="174.0" y="487.5" font-family="Liberation Sans, sans-serif" font-size="16" stroke-width="0.3" textLength="8.8" lengthAdjust="spacingAndGlyphs" fill="#fff" stroke="#fff">T</text>
<text x="184.2" y="488.5" font-family="Liberation Sans, sans-serif" font-size="10.5" font-weight="bold" fill="#000">0</text>
<text x="183.2" y="487.5" font-family="Liberation Sans, sans-serif" font-size="10.5" font-weight="bold" fill="#fff">0</text>
<text x="516.3" y="488.8" font-family="Liberation Sans, sans-serif" font-size="16" stroke-width="0.3" textLength="8.8" lengthAdjust="spacingAndGlyphs" fill="#000" stroke="#000">T</text>
<text x="515.3" y="487.8" font-family="Liberation Sans, sans-serif" font-size="16" stroke-width="0.3" textLength="8.8" lengthAdjust="spacingAndGlyphs" fill="#fff" stroke="#fff">T</text>
<text x="525.5" y="488.8" font-family="Liberation Sans, sans-serif" font-size="10.5" font-weight="bold" fill="#000">1</text>
<text x="524.5" y="487.8" font-family="Liberation Sans, sans-serif" font-size="10.5" font-weight="bold" fill="#fff">1</text>
<rect x="180" y="493" width="323" height="1" fill="#fff" shape-rendering="crispEdges"/>
<polygon points="502,490 515.8,493.5 502,497" fill="#fff"/>
<text x="537.8" y="488.3" font-family="Liberation Sans, sans-serif" font-size="9" font-weight="bold" textLength="37.0" lengthAdjust="spacingAndGlyphs" fill="#000">(N or NN</text>
<text x="536.8" y="487.3" font-family="Liberation Sans, sans-serif" font-size="9" font-weight="bold" textLength="37.0" lengthAdjust="spacingAndGlyphs" fill="#fff">(N or NN</text>
<text x="576.8" y="488.3" font-family="Liberation Sans, sans-serif" font-size="9" font-weight="bold" textLength="33.0" lengthAdjust="spacingAndGlyphs" fill="#000">months</text>
<text x="575.8" y="487.3" font-family="Liberation Sans, sans-serif" font-size="9" font-weight="bold" textLength="33.0" lengthAdjust="spacingAndGlyphs" fill="#fff">months</text>
<text x="610.0" y="488.3" font-family="Liberation Sans, sans-serif" font-size="9" font-weight="bold" fill="#000">)</text>
<text x="609.0" y="487.3" font-family="Liberation Sans, sans-serif" font-size="9" font-weight="bold" fill="#fff">)</text>
<rect x="577" y="489" width="33" height="1" fill="#000" shape-rendering="crispEdges"/>
<rect x="576" y="488" width="33" height="1" fill="#fff" shape-rendering="crispEdges"/>
</svg></body></html>
